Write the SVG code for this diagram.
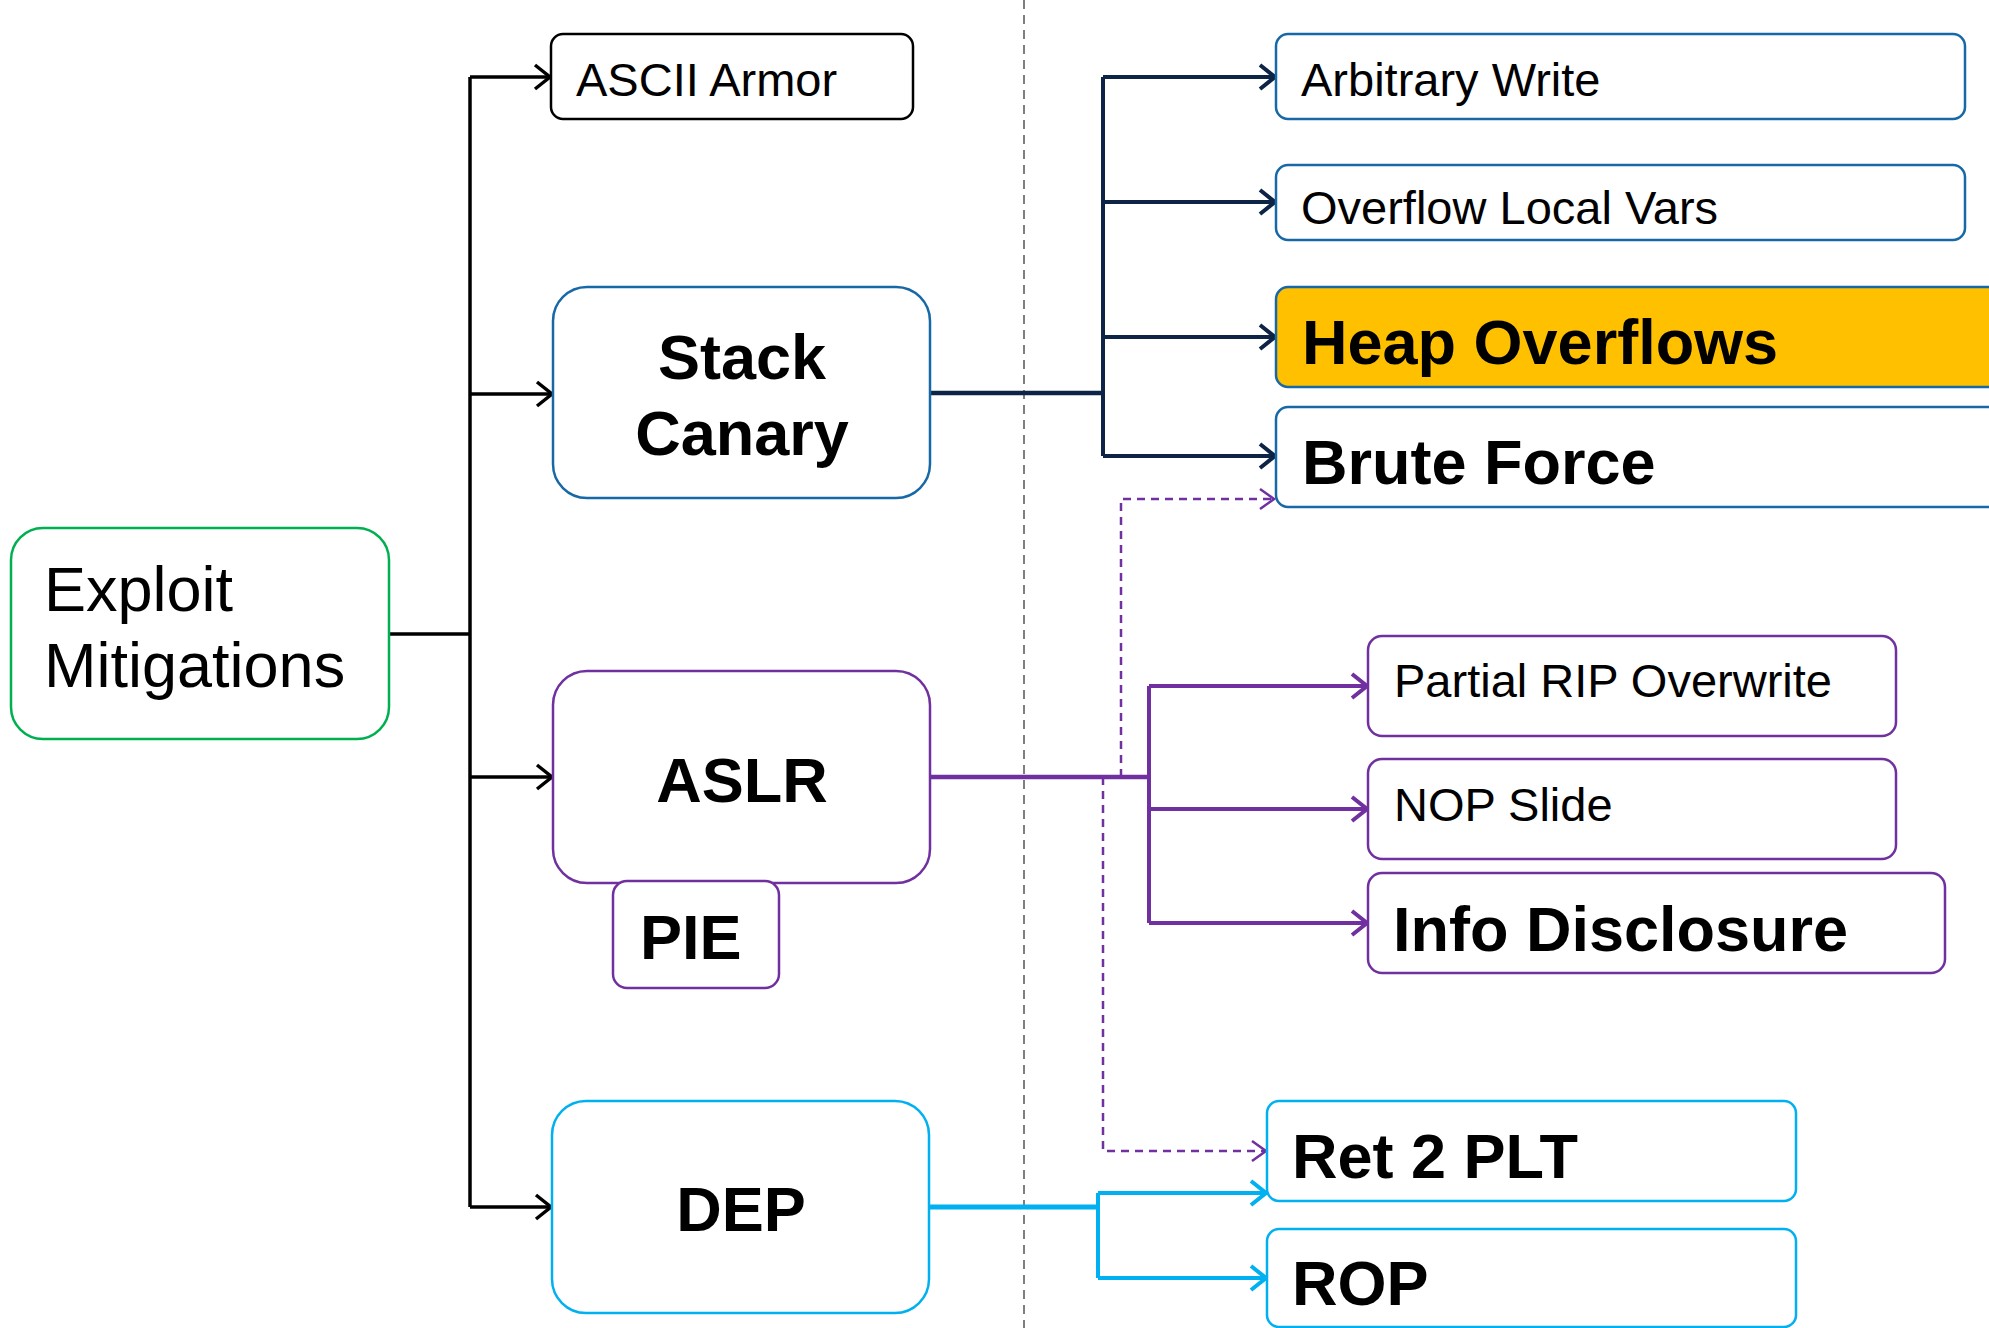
<svg xmlns="http://www.w3.org/2000/svg" width="1989" height="1328" viewBox="0 0 1989 1328">
<defs>
<style>
.t{font-family:"Liberation Sans",Arial,sans-serif;fill:#000}
.r{font-size:47px}
.b{font-size:63px;font-weight:bold}
.big{font-size:63px}
.box{fill:#fff;stroke-width:2.5}
.c{fill:none}
</style>
<marker id="aK" markerUnits="userSpaceOnUse" markerWidth="22" markerHeight="28" viewBox="0 0 22 28" refX="19" refY="14" orient="auto"><path d="M4,2 L19,14 L4,26" fill="none" stroke="#000" stroke-width="3.5"/></marker>
<marker id="aN" markerUnits="userSpaceOnUse" markerWidth="22" markerHeight="28" viewBox="0 0 22 28" refX="19" refY="14" orient="auto"><path d="M4,2 L19,14 L4,26" fill="none" stroke="#0E2447" stroke-width="4"/></marker>
<marker id="aP" markerUnits="userSpaceOnUse" markerWidth="22" markerHeight="28" viewBox="0 0 22 28" refX="19" refY="14" orient="auto"><path d="M4,2 L19,14 L4,26" fill="none" stroke="#7030A0" stroke-width="4"/></marker>
<marker id="aPd" markerUnits="userSpaceOnUse" markerWidth="22" markerHeight="28" viewBox="0 0 22 28" refX="19" refY="14" orient="auto"><path d="M5,4 L19,14 L5,24" fill="none" stroke="#7030A0" stroke-width="2.5"/></marker>
<marker id="aC" markerUnits="userSpaceOnUse" markerWidth="22" markerHeight="28" viewBox="0 0 22 28" refX="19" refY="14" orient="auto"><path d="M4,2 L19,14 L4,26" fill="none" stroke="#00B0F0" stroke-width="4"/></marker>
</defs>
<rect width="1989" height="1328" fill="#fff"/>

<g id="connectors" class="c">
<line x1="1024" y1="0" x2="1024" y2="1328" stroke="#555" stroke-width="1.5" stroke-dasharray="9,6"/>
<!-- main trunk -->
<path d="M389,634 H470" stroke="#000" stroke-width="3.5"/>
<path d="M470,77 V1207" stroke="#000" stroke-width="3.5"/>
<path d="M470,77 H550" stroke="#000" stroke-width="3.5" marker-end="url(#aK)"/>
<path d="M470,394 H552" stroke="#000" stroke-width="3.5" marker-end="url(#aK)"/>
<path d="M470,777 H552" stroke="#000" stroke-width="3.5" marker-end="url(#aK)"/>
<path d="M470,1207 H551" stroke="#000" stroke-width="3.5" marker-end="url(#aK)"/>
<!-- canary -->
<path d="M930,393 H1104" stroke="#0E2447" stroke-width="4.5"/>
<path d="M1103,77 V456" stroke="#0E2447" stroke-width="4"/>
<path d="M1103,77 H1275" stroke="#0E2447" stroke-width="4" marker-end="url(#aN)"/>
<path d="M1103,202 H1275" stroke="#0E2447" stroke-width="4" marker-end="url(#aN)"/>
<path d="M1103,337 H1275" stroke="#0E2447" stroke-width="4" marker-end="url(#aN)"/>
<path d="M1103,456 H1275" stroke="#0E2447" stroke-width="4" marker-end="url(#aN)"/>
<!-- aslr -->
<path d="M930,777 H1150" stroke="#7030A0" stroke-width="4.5"/>
<path d="M1149,686 V923" stroke="#7030A0" stroke-width="4"/>
<path d="M1149,686 H1367" stroke="#7030A0" stroke-width="4" marker-end="url(#aP)"/>
<path d="M1149,809 H1367" stroke="#7030A0" stroke-width="4" marker-end="url(#aP)"/>
<path d="M1149,923 H1367" stroke="#7030A0" stroke-width="4" marker-end="url(#aP)"/>
<path d="M1121,777 V499 H1274" stroke="#7030A0" stroke-width="2.5" stroke-dasharray="8,6" marker-end="url(#aPd)"/>
<path d="M1103,777 V1151 H1266" stroke="#7030A0" stroke-width="2.5" stroke-dasharray="8,6" marker-end="url(#aPd)"/>
<!-- dep -->
<path d="M929,1207 H1098" stroke="#00B0F0" stroke-width="5"/>
<path d="M1098,1193 V1278" stroke="#00B0F0" stroke-width="4"/>
<path d="M1098,1193 H1266" stroke="#00B0F0" stroke-width="4" marker-end="url(#aC)"/>
<path d="M1098,1278 H1266" stroke="#00B0F0" stroke-width="4" marker-end="url(#aC)"/>
</g>

<g id="exploit-mitigations">
<rect class="box" x="11" y="528" width="378" height="211" rx="32" stroke="#00B050"/>
<text class="t big" x="44" y="611">Exploit</text>
<text class="t big" x="44" y="687">Mitigations</text>
</g>
<g id="ascii-armor">
<rect class="box" x="551" y="34" width="362" height="85" rx="12" stroke="#000"/>
<text class="t r" x="576" y="96">ASCII Armor</text>
</g>
<g id="stack-canary">
<rect class="box" x="553" y="287" width="377" height="211" rx="34" stroke="#1768A7"/>
<text class="t b" x="742" y="379" text-anchor="middle">Stack</text>
<text class="t b" x="742" y="455" text-anchor="middle">Canary</text>
</g>
<g id="aslr">
<rect class="box" x="553" y="671" width="377" height="212" rx="34" stroke="#7030A0"/>
<text class="t b" x="742" y="802" text-anchor="middle">ASLR</text>
</g>
<g id="pie">
<rect class="box" x="613" y="881" width="166" height="107" rx="14" stroke="#7030A0"/>
<text class="t b" x="640" y="959">PIE</text>
</g>
<g id="dep">
<rect class="box" x="552" y="1101" width="377" height="212" rx="34" stroke="#00B0F0"/>
<text class="t b" x="741" y="1231" text-anchor="middle">DEP</text>
</g>
<g id="arbitrary-write">
<rect class="box" x="1276" y="34" width="689" height="85" rx="12" stroke="#1768A7"/>
<text class="t r" x="1301" y="96">Arbitrary Write</text>
</g>
<g id="overflow-local-vars">
<rect class="box" x="1276" y="165" width="689" height="75" rx="12" stroke="#1768A7"/>
<text class="t r" x="1301" y="224">Overflow Local Vars</text>
</g>
<g id="heap-overflows">
<rect x="1276" y="287" width="740" height="100" rx="12" fill="#FFC000" stroke="#1768A7" stroke-width="2.5"/>
<text class="t b" x="1302" y="364">Heap Overflows</text>
</g>
<g id="brute-force">
<rect class="box" x="1276" y="407" width="740" height="100" rx="12" stroke="#1768A7"/>
<text class="t b" x="1302" y="484">Brute Force</text>
</g>
<g id="partial-rip-overwrite">
<rect class="box" x="1368" y="636" width="528" height="100" rx="14" stroke="#7030A0"/>
<text class="t r" x="1394" y="697">Partial RIP Overwrite</text>
</g>
<g id="nop-slide">
<rect class="box" x="1368" y="759" width="528" height="100" rx="14" stroke="#7030A0"/>
<text class="t r" x="1394" y="821">NOP Slide</text>
</g>
<g id="info-disclosure">
<rect class="box" x="1368" y="873" width="577" height="100" rx="14" stroke="#7030A0"/>
<text class="t b" x="1393" y="951">Info Disclosure</text>
</g>
<g id="ret2plt">
<rect class="box" x="1267" y="1101" width="529" height="100" rx="12" stroke="#00B0F0"/>
<text class="t b" x="1292" y="1178">Ret 2 PLT</text>
</g>
<g id="rop">
<rect class="box" x="1267" y="1229" width="529" height="98" rx="12" stroke="#00B0F0"/>
<text class="t b" x="1292" y="1305">ROP</text>
</g>
</svg>
